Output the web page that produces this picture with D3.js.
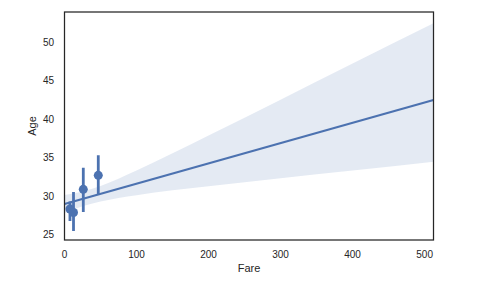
<!DOCTYPE html>
<html>
<head>
<meta charset="utf-8">
<script src="https://cdn.jsdelivr.net/npm/d3@7.9.0/dist/d3.min.js"></script>
<style>
  body { margin: 0; background: #fff; }
  text { font-family: "Liberation Sans", Arial, sans-serif; fill: #262626; }
</style>
</head>
<body>
<svg id="chart" width="494" height="283"></svg>
<script>
// binned points (fare bin centre, mean age, ci)
const binFare = [7.6, 12.5, 26.1, 46.9];
const binAge = [28.3, 27.84, 30.86, 32.68];
const binLow = [26.73, 25.43, 27.9, 30.12];
const binHigh = [29.27, 30.5, 33.67, 35.29];

// regression line ends
const lineFare = [0, 512.33];
const lineAge = [28.95, 42.49];

// confidence band
const bandFare = [0, 25, 50, 100, 150, 200, 300, 400, 512.33];
const bandLow = [27.77, 28.66, 29.28, 30.1, 30.73, 31.27, 32.3, 33.3, 34.45];
const bandHigh = [30.12, 30.56, 31.29, 33.3, 35.55, 37.86, 42.53, 47.24, 52.47];

const xTicks = [0, 100, 200, 300, 400, 500];
const yTicks = [25, 30, 35, 40, 45, 50];

const blue = '#4c72b0';
const margin = { left: 64.5, right: 433.5, top: 12, bottom: 240 };

let svg = d3.select('#chart');

let x = d3.scaleLinear().domain([0, 512.33]).range([margin.left, margin.right]);
let y = d3.scaleLinear().domain([24.26, 53.95]).range([margin.bottom, margin.top]);

let clip = svg.append('clipPath').attr('id', 'plot-clip')
  .append('rect')
  .attr('x', margin.left).attr('y', margin.top)
  .attr('width', margin.right - margin.left).attr('height', margin.bottom - margin.top);

let plot = svg.append('g').attr('clip-path', 'url(#plot-clip)');

// ci band
let area = d3.area()
  .x((d, i) => x(bandFare[i]))
  .y0((d, i) => y(bandLow[i]))
  .y1((d, i) => y(bandHigh[i]))
  .curve(d3.curveMonotoneX);
plot.append('path')
  .attr('d', area(bandFare))
  .attr('fill', blue)
  .attr('fill-opacity', 0.15);

// regression line
let line = d3.line().x((d, i) => x(lineFare[i])).y((d, i) => y(lineAge[i]));
plot.append('path')
  .attr('d', line(lineFare))
  .attr('fill', 'none')
  .attr('stroke', blue)
  .attr('stroke-width', 2.2);

// error bars + markers
binFare.forEach((f, i) => {
  plot.append('line')
    .attr('x1', x(f)).attr('x2', x(f))
    .attr('y1', y(binLow[i])).attr('y2', y(binHigh[i]))
    .attr('stroke', blue)
    .attr('stroke-width', 2.8);
  plot.append('circle')
    .attr('cx', x(f)).attr('cy', y(binAge[i]))
    .attr('r', 4.5)
    .attr('fill', blue);
});

// frame
svg.append('rect')
  .attr('x', margin.left).attr('y', margin.top)
  .attr('width', margin.right - margin.left).attr('height', margin.bottom - margin.top)
  .attr('fill', 'none')
  .attr('stroke', '#262626')
  .attr('stroke-width', 1.25);

// tick labels (no tick marks in this style)
svg.append('g').selectAll('text')
  .data(xTicks).join('text')
  .attr('x', d => x(d))
  .attr('y', 257.5)
  .attr('text-anchor', 'middle')
  .attr('font-size', 10)
  .text(d => d);

svg.append('g').selectAll('text')
  .data(yTicks).join('text')
  .attr('x', 54)
  .attr('y', d => y(d) + 3.6)
  .attr('text-anchor', 'end')
  .attr('font-size', 10)
  .text(d => d);

svg.append('text')
  .attr('x', (margin.left + margin.right) / 2)
  .attr('y', 272)
  .attr('text-anchor', 'middle')
  .attr('font-size', 11)
  .text('Fare');

svg.append('text')
  .attr('transform', `translate(35.5, ${(margin.top + margin.bottom) / 2}) rotate(-90)`)
  .attr('text-anchor', 'middle')
  .attr('font-size', 11)
  .text('Age');
</script>
</body>
</html>
